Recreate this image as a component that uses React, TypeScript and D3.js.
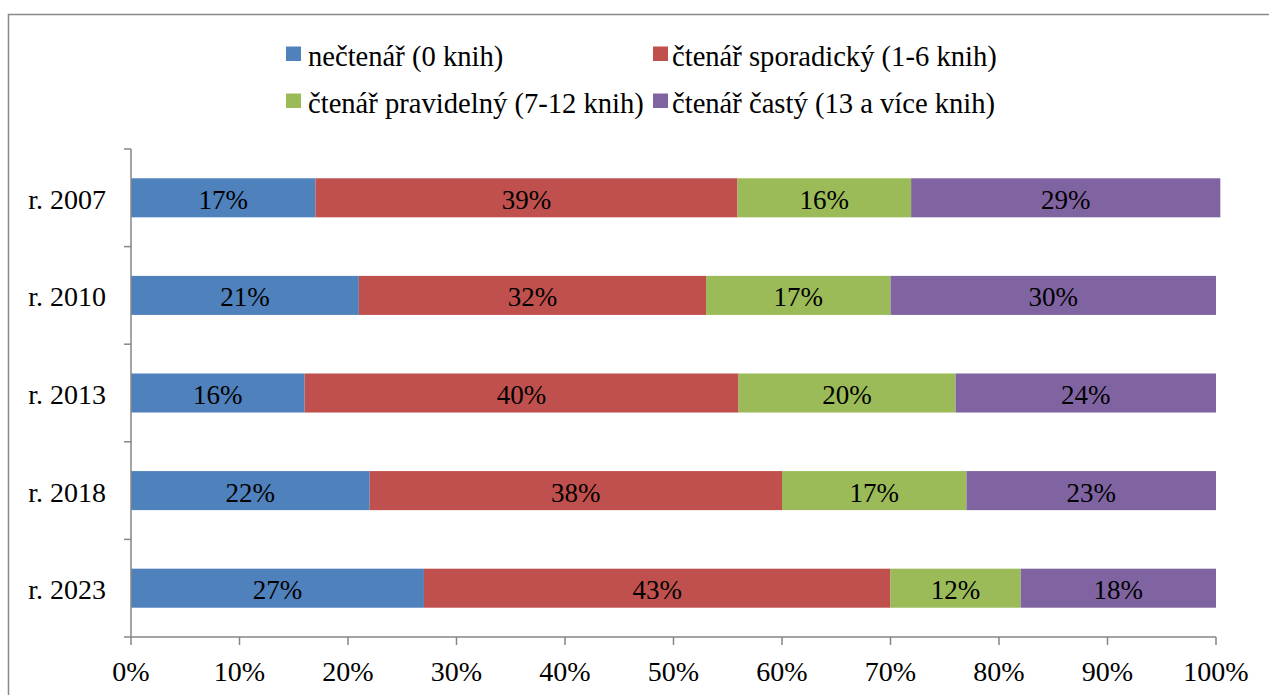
import React from "react";
import * as d3 from "d3";

const categories = ["r. 2007", "r. 2010", "r. 2013", "r. 2018", "r. 2023"];
const seriesNames = [
  "nečtenář (0 knih)",
  "čtenář sporadický (1-6 knih)",
  "čtenář pravidelný (7-12 knih)",
  "čtenář častý (13 a více knih)",
];
const nectenar = [17.0, 21, 16, 22, 27];
const sporadicky = [38.9, 32, 40, 38, 43];
const pravidelny = [16.0, 17, 20, 17, 12];
const casty = [28.5, 30, 24, 23, 18];
const xTicks = [0, 10, 20, 30, 40, 50, 60, 70, 80, 90, 100];
const colors = ["#4F81BD", "#C0504D", "#9BBB59", "#8064A2"];

const W = 1269;
const H = 695;
const FONT = "'Liberation Serif', 'Times New Roman', serif";
const AXIS = "#868686";

export default function App() {
  const rows = categories.map((c, i) => ({
    cat: c,
    s0: nectenar[i],
    s1: sporadicky[i],
    s2: pravidelny[i],
    s3: casty[i],
  }));
  const keys = ["s0", "s1", "s2", "s3"];
  const stacked = d3.stack<any>().keys(keys)(rows);

  const x = d3.scaleLinear().domain([0, 100]).range([131, 1216]);
  const y = d3
    .scaleBand<string>()
    .domain(categories)
    .range([149, 637])
    .paddingInner(0.6)
    .paddingOuter(0.3);
  const step = y.step();
  const y0 = 149;
  const y1 = 637;
  const boundaries = d3.range(categories.length + 1).map((i) => y0 + i * step);

  const legendPos = [
    { sx: 286, tx: 308, sy: 46.5, by: 66 },
    { sx: 653, tx: 672, sy: 46.5, by: 66 },
    { sx: 286, tx: 308, sy: 93.5, by: 113 },
    { sx: 653, tx: 672, sy: 93.5, by: 113 },
  ];

  return (
    <div style={{ position: "absolute", left: 0, top: 0 }}>
      <svg width={W} height={H} style={{ display: "block", background: "#fff" }}>
        <rect x={0} y={0} width={W} height={H} fill="#fff" />
        <rect
          x={8.5}
          y={14.5}
          width={W + 20}
          height={H + 20}
          fill="none"
          stroke="#898989"
          strokeWidth={1.5}
        />

        {/* legend */}
        {seriesNames.map((name, i) => (
          <g key={name}>
            <rect
              x={legendPos[i].sx}
              y={legendPos[i].sy}
              width={15}
              height={14.5}
              fill={colors[i]}
            />
            <text
              x={legendPos[i].tx}
              y={legendPos[i].by}
              fontFamily={FONT}
              fontSize={28.6}
              fill="#000"
            >
              {name}
            </text>
          </g>
        ))}

        {/* bars */}
        {stacked.map((layer, li) => (
          <g key={li}>
            {layer.map((d, di) => {
              const xa = x(d[0]);
              const xb = x(d[1]);
              const yy = y(categories[di]) as number;
              const bw = y.bandwidth();
              const v = d[1] - d[0];
              return (
                <g key={di}>
                  <rect x={xa} y={yy} width={xb - xa} height={bw} fill={colors[li]} />
                  <text
                    x={(xa + xb) / 2}
                    y={yy + bw / 2 + 11}
                    textAnchor="middle"
                    fontFamily={FONT}
                    fontSize={27}
                    fill="#000"
                  >
                    {Math.round(v) + "%"}
                  </text>
                </g>
              );
            })}
          </g>
        ))}

        {/* y axis */}
        <line x1={131} x2={131} y1={y0} y2={y1} stroke={AXIS} strokeWidth={1.5} />
        {boundaries.map((b, i) => (
          <line key={i} x1={124} x2={131} y1={b} y2={b} stroke={AXIS} strokeWidth={1.5} />
        ))}
        {categories.map((c) => (
          <text
            key={c}
            x={106}
            y={(y(c) as number) + y.bandwidth() / 2 + 11}
            textAnchor="end"
            fontFamily={FONT}
            fontSize={28}
            fill="#000"
          >
            {c}
          </text>
        ))}

        {/* x axis */}
        <line x1={131} x2={x(100)} y1={y1} y2={y1} stroke={AXIS} strokeWidth={1.5} />
        {xTicks.map((t) => (
          <g key={t}>
            <line x1={x(t)} x2={x(t)} y1={y1} y2={y1 + 8} stroke={AXIS} strokeWidth={1.5} />
            <text
              x={x(t)}
              y={680.5}
              textAnchor="middle"
              fontFamily={FONT}
              fontSize={28}
              fill="#000"
            >
              {t + "%"}
            </text>
          </g>
        ))}
      </svg>
    </div>
  );
}
